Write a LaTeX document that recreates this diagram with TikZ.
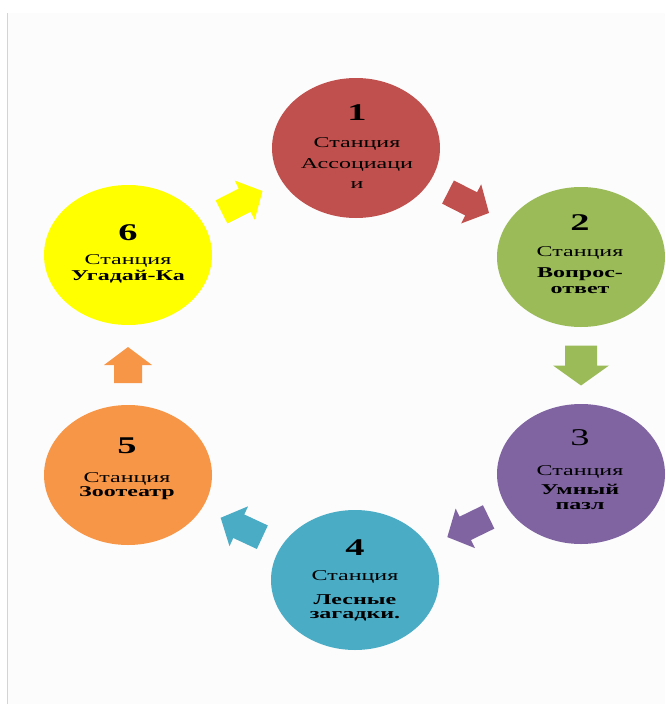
\documentclass[tikz,border=0pt]{standalone}
\usepackage{fontspec}
\newfontfamily\wf[FakeStretch=1.6]{Liberation Serif}
\usetikzlibrary{shapes.geometric,calc}
\definecolor{cred}{HTML}{C0504D}
\definecolor{cgreen}{HTML}{9BBB59}
\definecolor{cpurple}{HTML}{8064A2}
\definecolor{cblue}{HTML}{4BACC6}
\definecolor{corange}{HTML}{F79646}
\definecolor{cyellow}{HTML}{FFFF00}
\definecolor{bgpage}{HTML}{FCFCFC}
\definecolor{edgeline}{HTML}{D4D4D4}
\newcommand{\numf}{\fontsize{24}{24}\selectfont\bfseries}
\newcommand{\numr}{\fontsize{24}{24}\selectfont}
\newcommand{\txtfont}{\wf\fontsize{15}{14}\selectfont\lineskiplimit-100pt\relax}
\begin{document}
\begin{tikzpicture}[x=1pt,y=-1pt,
  stn/.style={ellipse, minimum width=168pt, minimum height=140pt, inner sep=0pt, draw=none, fill=#1},
  txt/.style={align=center, inner sep=0pt, text=black, font=\txtfont},
  pics/barrow/.style n args={4}{code={
    \fill[pic actions] ({-#1/2},{-#4}) -- ({#1/2-#2},{-#4}) -- ({#1/2-#2},{-#3})
      -- ({#1/2},0) -- ({#1/2-#2},{#3}) -- ({#1/2-#2},{#4}) -- ({-#1/2},{#4}) -- cycle;}}
]
\useasboundingbox (0,0) rectangle (665,704);
\fill[white] (0,0) rectangle (665,704);
\fill[bgpage] (7,13) rectangle (665,704);
\draw[edgeline, line width=1pt] (7,13) -- (7,704);

% stations
\node[stn=cred]    (c1) at (356,148) {};
\node[stn=cgreen]  (c2) at (581,257) {};
\node[stn=cpurple] (c3) at (581,474) {};
\node[stn=cblue]   (c4) at (355,580) {};
\node[stn=corange] (c5) at (128,475) {};
\node[stn=cyellow] (c6) at (128,255) {};

% texts
\node[txt] (t1) at (357,147) {{\numf 1}\\[13pt]Станция\\[7pt]Ассоциаци\\[6pt]и};
\node[txt] (t2) at (580,254) {{\numf 2}\\[12pt]Станция\\[7pt]\textbf{Вопрос-}\\[2pt]\textbf{ответ}};
\node[txt] (t3) at (580,470) {{\numr 3}\\[16pt]Станция\\[5pt]\textbf{Умный}\\[1pt]\textbf{пазл}};
\node[txt] (t4) at (355,580) {{\numf 4}\\[11pt]Станция\\[10pt]\textbf{Лесные}\\[0pt]\textbf{загадки.}};
\node[txt] (t5) at (127,469) {{\numf 5}\\[15pt]Станция\\[0pt]\textbf{Зоотеатр}};
\node[txt] (t6) at (128,254) {{\numf 6}\\[10pt]Станция\\[2pt]\textbf{Угадай-Ка}};

% block arrows between stations
\path ($(c6)!0.5!(c1)$) pic[fill=cyellow, rotate=27]  {barrow={46}{20}{22}{13}};
\path ($(c1)!0.5!(c2)$) pic[fill=cred,    rotate=-27] {barrow={46}{20}{22}{13}};
\path ($(c2)!0.5!(c3)$) pic[fill=cgreen,  rotate=-90] {barrow={40}{20}{28}{16}};
\path ($(c3)!0.5!(c4)$) pic[fill=cpurple, rotate=206] {barrow={46}{20}{22}{13}};
\path ($(c4)!0.5!(c5)$) pic[fill=cblue,   rotate=155] {barrow={46}{20}{22}{13}};
\path ($(c5)!0.5!(c6)$) pic[fill=corange, rotate=90]  {barrow={36}{18}{24}{14}};
\end{tikzpicture}
\end{document}
